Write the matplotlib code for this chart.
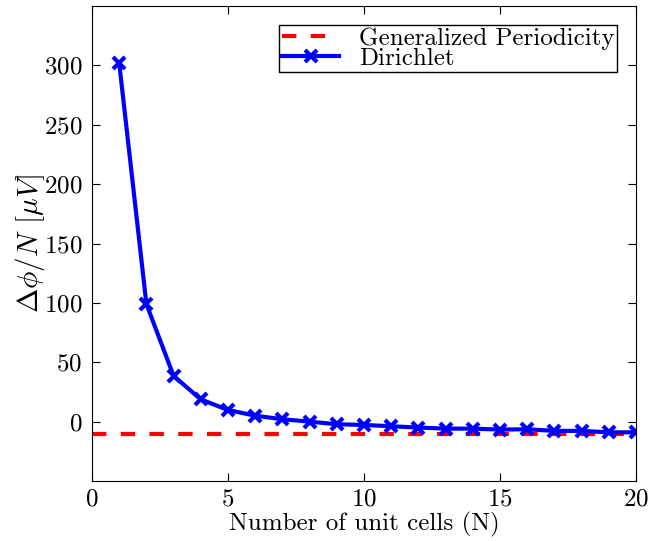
import matplotlib
matplotlib.use("Agg")
import matplotlib.pyplot as plt

plt.rcParams['font.family'] = ['cmr10', 'DejaVu Serif']
plt.rcParams['mathtext.fontset'] = 'cm'
plt.rcParams['axes.formatter.use_mathtext'] = True
plt.rcParams['axes.unicode_minus'] = False

N = list(range(1, 21))
dirichlet = [302, 99, 38.5, 18.7, 9.8, 5, 2, 0, -2.2, -2.8, -3.9, -5, -5.9, -5.9,
             -6.7, -6.4, -7.8, -7.8, -9, -9]
gen_periodicity = -10.0
xticks = [0, 5, 10, 15, 20]
yticks = [0, 50, 100, 150, 200, 250, 300]

fig = plt.figure(figsize=(6.49, 5.41), dpi=100)
ax = fig.add_axes([92/649, 1 - 481/541, (636-92)/649, (481-6)/541])

ax.axhline(gen_periodicity, color='red', linestyle=(0, (3.45, 3.45)), linewidth=3,
           label='Generalized Periodicity')
ax.plot(N, dirichlet, color='blue', linewidth=3, marker='x', markersize=9,
        markeredgewidth=3, label='Dirichlet')

ax.set_xlim(0, 20)
ax.set_ylim(-50, 350)
ax.set_xticks(xticks)
ax.set_yticks(yticks)
ax.tick_params(direction='in', top=True, right=True, labelsize=18, length=6)
ax.tick_params(axis='x', pad=5)
ax.tick_params(axis='y', pad=7)
ax.set_xlabel('Number of unit cells (N)', fontsize=18, labelpad=1)
ax.set_ylabel(r'$\Delta\phi/N$ [$\mu V$]', fontsize=21, labelpad=-2)

leg = ax.legend(loc='upper right', fontsize=18, fancybox=False, framealpha=1,
                edgecolor='black', handlelength=2.3, borderpad=0.1,
                labelspacing=-0.1, handletextpad=0.8, borderaxespad=0.75)
leg.get_frame().set_linewidth(1)

fig.savefig('out.png', dpi=100)
